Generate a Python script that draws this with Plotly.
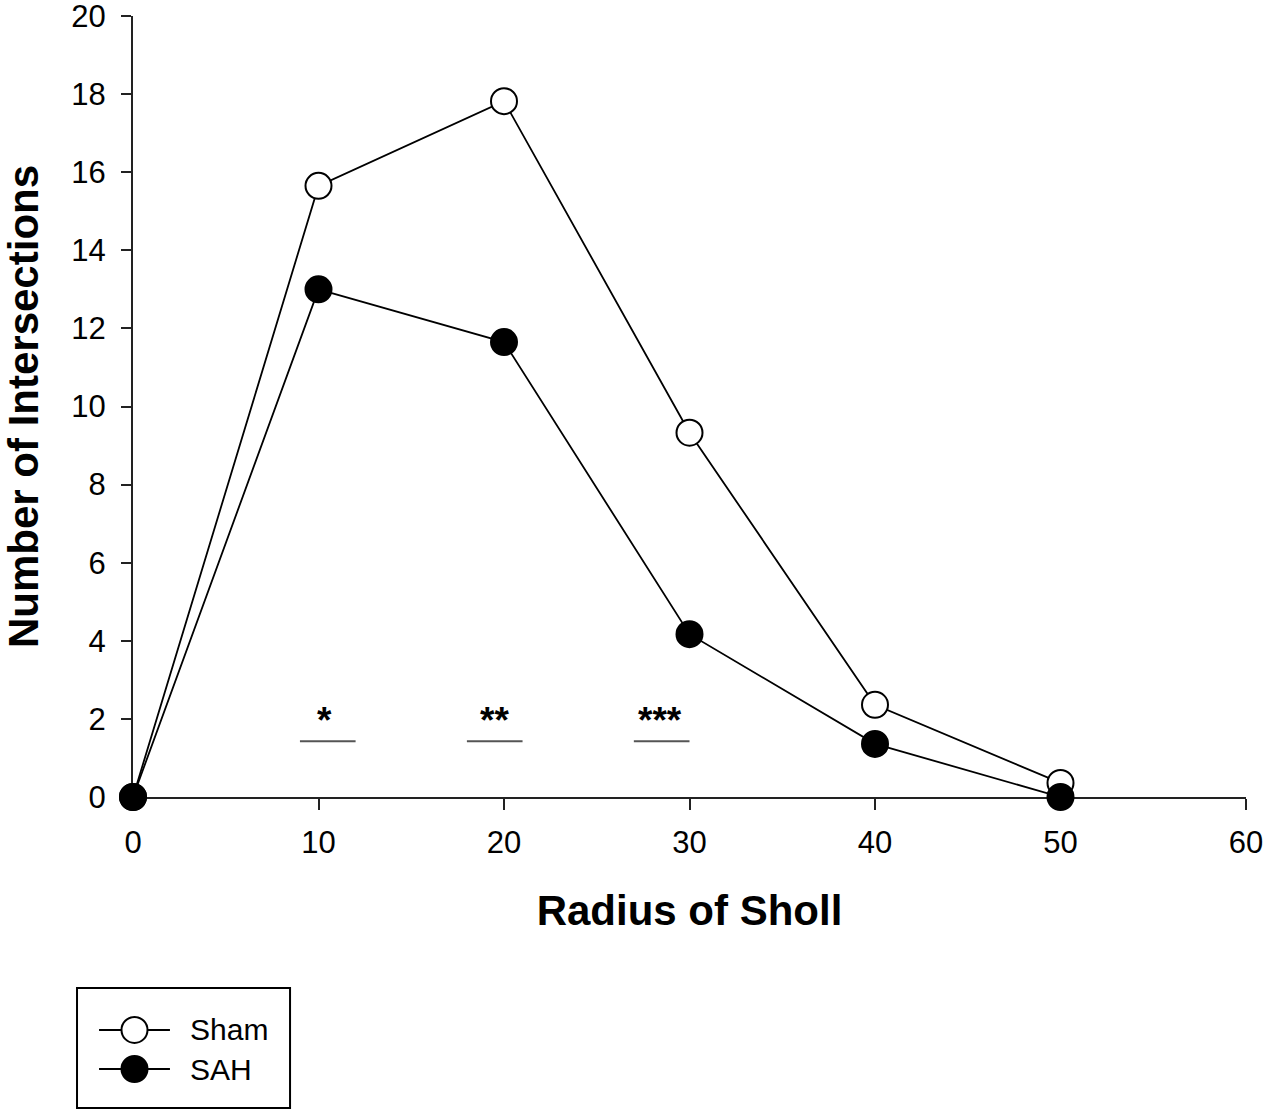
import plotly.graph_objects as go

# Sholl analysis: number of intersections per radius
radius = [0, 10, 20, 30, 40, 50]
sham = [0, 15.65, 17.82, 9.33, 2.36, 0.36]
sah = [0, 13.0, 11.65, 4.17, 1.36, 0]
series_names = ["Sham", "SAH"]
series_fill = ["white", "black"]

# significance bars (start/end radius) and their labels
sig_start = [9, 18, 27]
sig_end = [12, 21, 30]
sig_label_x = [10.35, 19.5, 28.4]
sig_labels = ["*", "**", "***"]
sig_bar_y = 1.43
sig_text_y = 1.95

x_ticks = [0, 10, 20, 30, 40, 50, 60]
y_ticks = list(range(0, 21, 2))

FONT = "Liberation Sans, Arial, sans-serif"

fig = go.Figure()
for name, vals, fill in zip(series_names, [sham, sah], series_fill):
    fig.add_trace(go.Scatter(
        x=radius, y=vals, name=name, mode="lines+markers",
        line=dict(color="black", width=1.8),
        marker=dict(symbol="circle", size=26, color=fill, line=dict(color="black", width=2)),
        cliponaxis=False, showlegend=False,
    ))

for x0, x1 in zip(sig_start, sig_end):
    fig.add_shape(type="line", x0=x0, x1=x1, y0=sig_bar_y, y1=sig_bar_y,
                  line=dict(color="#555555", width=2))
for x, lab in zip(sig_label_x, sig_labels):
    fig.add_annotation(x=x, y=sig_text_y, text=f"<b>{lab}</b>", showarrow=False,
                       font=dict(family=FONT, size=37, color="black"))

# legend box drawn by hand so the symbols keep the plot's marker size
fig.add_shape(type="rect", xref="paper", yref="paper",
              x0=-0.0503, x1=0.1411, y0=-0.3982, y1=-0.2446,
              line=dict(color="black", width=2), fillcolor="white")
for row_y, name, fill in zip([-0.2983, -0.3483], series_names, series_fill):
    fig.add_shape(type="line", xref="paper", yref="paper",
                  x0=-0.0305, x1=0.0332, y0=row_y, y1=row_y,
                  line=dict(color="black", width=2))
    fig.add_shape(type="circle", xref="paper", yref="paper",
                  xsizemode="pixel", ysizemode="pixel",
                  xanchor=0.00135, yanchor=row_y,
                  x0=-13, x1=13, y0=-13, y1=13,
                  line=dict(color="black", width=2), fillcolor=fill)
    fig.add_annotation(xref="paper", yref="paper", x=0.0494, y=row_y,
                       xanchor="left", yanchor="middle", text=name, showarrow=False,
                       font=dict(family=FONT, size=30, color="black"))

axis_common = dict(
    showline=True, linecolor="#222222", linewidth=2,
    ticks="outside", tickcolor="#222222", tickwidth=2,
    showgrid=False, zeroline=False, layer="below traces", automargin=False,
    ticklabeloverflow="allow",
    tickfont=dict(family=FONT, size=31, color="black"),
)

fig.update_layout(
    width=1267, height=1115,
    margin=dict(l=133, r=21, t=16, b=318),
    plot_bgcolor="white", paper_bgcolor="white",
    font=dict(family=FONT, color="black"),
    xaxis=dict(range=[0, 60], tickvals=x_ticks, ticklen=11, ticklabelstandoff=6,
               title=dict(text="<b>Radius of Sholl</b>", font=dict(family=FONT, size=42), standoff=36),
               **axis_common),
    yaxis=dict(range=[0, 20], tickvals=y_ticks, ticklen=10, ticklabelstandoff=9,
               title=dict(text="<b>Number of Intersections</b>", font=dict(family=FONT, size=42), standoff=37),
               **axis_common),
    showlegend=False,
)

# drop the browser's default body margin so the figure sits at the page corner
fig.write_html("out.html", config={"displayModeBar": False},
               post_script="document.body.style.margin = '0';")
